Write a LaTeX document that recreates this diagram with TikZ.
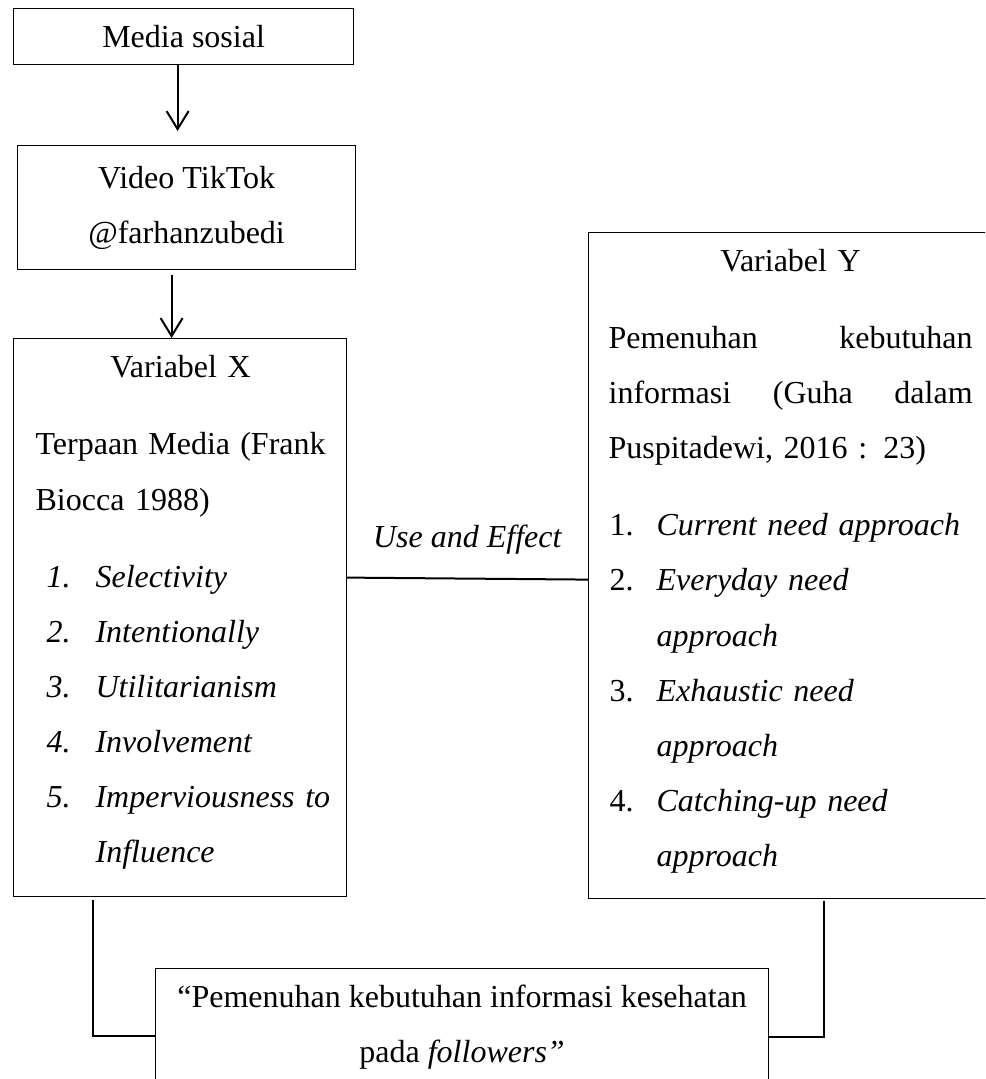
\documentclass[tikz,border=0pt]{standalone}
\usepackage{fontspec}
\setmainfont{Liberation Serif}
\usetikzlibrary{arrows.meta}

\begin{document}
\begin{tikzpicture}[x=0.375pt,y=-0.375pt,line width=0.45pt,
	font=\fontsize{12pt}{20.625pt}\selectfont,
	box/.style={draw,anchor=north west,inner sep=0pt},
	txt/.style={anchor=base west,inner sep=0pt},
	arr/.style={line width=0.75pt,-{Straight Barb[length=6.75pt,width=8.25pt]}},
	link/.style={line width=0.75pt}]
	\useasboundingbox (0,0) rectangle (985,1079);
	\clip (0,0) rectangle (985,1079);
	\node[box,minimum width=127.5pt,minimum height=21pt] (media) at (13,8) {Media sosial};
	\node[box,minimum width=126.75pt,minimum height=46.5pt,align=center] (video) at (17,145) {Video TikTok\\@farhanzubedi};
	\node[box,minimum width=124.875pt,minimum height=209.25pt] (varx) at (13,338) {};
	\node[box,minimum width=151.5pt,minimum height=249.75pt] (vary) at (588,232) {};
	\node[box,minimum width=229.875pt,minimum height=44.25pt,align=center] (hasil) at (155,968)
		{“Pemenuhan kebutuhan informasi kesehatan\\pada \textit{followers”}};
	\node[txt,text width=108.75pt] (xtxt) at (35,378) {%
		\makebox[\linewidth]{Variabel X}\\[8.25pt]
		Terpaan\hfill Media\hfill (Frank\\
		Biocca 1988)\\[8.25pt]
		\hspace*{4.125pt}\makebox[18.375pt][l]{\textit{1.}}\mbox{\textit{Selectivity}}\\
		\hspace*{4.125pt}\makebox[18.375pt][l]{\textit{2.}}\mbox{\textit{Intentionally}}\\
		\hspace*{4.125pt}\makebox[18.375pt][l]{\textit{3.}}\mbox{\textit{Utilitarianism}}\\
		\hspace*{4.125pt}\makebox[18.375pt][l]{\textit{4.}}\mbox{\textit{Involvement}}\\
		\hspace*{4.125pt}\makebox[18.375pt][l]{\textit{5.}}\mbox{\textit{Imperviousness to}}\\
		\hspace*{22.5pt}\textit{Influence}};
	\node[txt,text width=136.5pt] (ytxt) at (608,272) {%
		\makebox[\linewidth]{Variabel Y}\\[8.25pt]
		Pemenuhan\hfill kebutuhan\\
		informasi\hfill (Guha\hfill dalam\\
		Puspitadewi, 2016 : 23)\\[8.25pt]
		\hspace*{0.375pt}\makebox[17.625pt][l]{1.}\mbox{\textit{Current need approach}}\\
		\hspace*{0.375pt}\makebox[17.625pt][l]{2.}\mbox{\textit{Everyday need}}\\
		\hspace*{18pt}\textit{approach}\\
		\hspace*{0.375pt}\makebox[17.625pt][l]{3.}\mbox{\textit{Exhaustic need}}\\
		\hspace*{18pt}\textit{approach}\\
		\hspace*{0.375pt}\makebox[17.625pt][l]{4.}\mbox{\textit{Catching-up need}}\\
		\hspace*{18pt}\textit{approach}};
	\coordinate (a1) at ([xshift=-2.25pt]media.south);
	\draw[arr,shorten >=5.25pt] (a1) -- (a1 |- video.north);
	\coordinate (a2) at ([xshift=-5.625pt,yshift=-1.875pt]video.south);
	\draw[arr] (a2) -- (a2 |- varx.north);
	\draw[link] ([yshift=15pt]varx.east) -- node[midway,anchor=base,yshift=11.625pt] (ue) {\textit{Use and Effect}} ([yshift=-5.25pt]vary.west);
	\coordinate (b1) at ([xshift=-32.8125pt,yshift=-1.125pt]varx.south);
	\draw[link] (b1) |- ([yshift=-3pt]hasil.west);
	\coordinate (b2) at ([xshift=12.375pt,yshift=-0.75pt]vary.south);
	\draw[link] (b2) |- ([yshift=-3.375pt]hasil.east);
\end{tikzpicture}
\end{document}
